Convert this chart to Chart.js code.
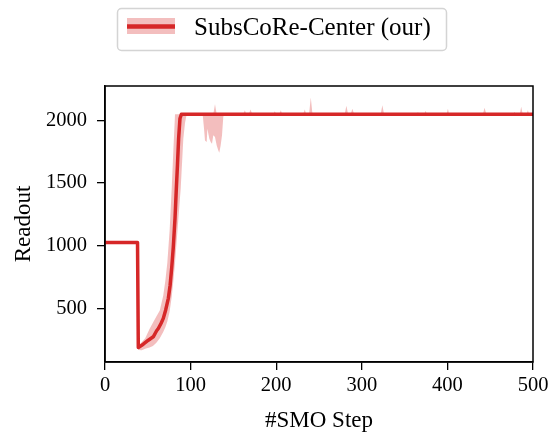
<!DOCTYPE html>
<html>
<head>
<meta charset="utf-8">
<script src="https://cdn.jsdelivr.net/npm/chart.js@4.4.1/dist/chart.umd.min.js"></script>
<style>
  html, body { margin: 0; padding: 0; background: #fff; }
</style>
</head>
<body>
<canvas id="chart" width="553" height="435"></canvas>
<script>
const seriesLabel = 'SubsCoRe-Center (our)';
const xTitle = '#SMO Step';
const yTitle = 'Readout';
const xTicks = [0, 100, 200, 300, 400, 500];
const yTicks = [500, 1000, 1500, 2000];

// mean readout
const meanX = [0, 38, 38.9, 44.7, 50.6, 56.4, 60.3, 62.3, 65.4, 68.1, 70.9, 74, 76, 77.9, 79.8, 81.8, 83.3, 84.7, 86, 87.6, 89.2, 500];
const meanY = [1024, 1024, 187, 214, 246, 273, 321, 339, 379, 420, 487, 580, 680, 820, 990, 1220, 1451, 1650, 1853, 2014, 2048, 2048];

// shaded band (upper / lower edge), same steps for both
const bandX = [0, 2, 38, 39, 43, 47, 52, 56, 60, 64, 68, 70.5, 72.8, 75.5, 77.9, 80, 81.8, 85, 88.4, 91.5, 93.5, 95.4,
    114.1, 115.7, 116.8, 118.8, 119.6, 121.9, 123.5, 125, 126.5, 128.5, 130.5, 132.4, 133.5, 135.1, 136.7, 138.2, 139.5,
    161.5, 163.4, 165, 168, 170, 172,
    196.5, 198.4, 200, 203.5, 205.4, 207,
    231.5, 233.4, 235, 238.4, 240.4, 242.4,
    280, 282, 284, 287, 289, 291,
    322, 324, 326,
    364, 365.6, 367, 373, 374.6, 376,
    399, 400.6, 402,
    441.5, 443.4, 445.5,
    477, 478.4, 480, 484.5, 486.2, 488, 492.5, 494, 495.5, 500];
const bandUpper = [1024, 1024, 1024, 200, 232, 262, 335, 385, 435, 483, 600, 720, 864, 1120, 1451, 1780, 2048, 2048, 2048, 2048, 2048, 2048,
    2048, 2048, 2048, 2048, 2048, 2048, 2048, 2048, 2048, 2128, 2048, 2048, 2048, 2048, 2048, 2048, 2048,
    2048, 2080, 2048, 2048, 2086, 2048,
    2048, 2072, 2048, 2048, 2080, 2048,
    2048, 2086, 2048, 2048, 2182, 2048,
    2048, 2115, 2048, 2048, 2091, 2048,
    2048, 2120, 2048,
    2048, 2065, 2048, 2048, 2075, 2048,
    2048, 2091, 2048,
    2048, 2099, 2048,
    2048, 2065, 2048, 2048, 2107, 2048, 2048, 2080, 2048, 2048];
const bandLower = [1000, 1024, 1024, 168, 166, 178, 188, 200, 225, 262, 312, 350, 395, 475, 590, 730, 864, 1150, 1451, 1853, 1980, 2048,
    2048, 1933, 1839, 1826, 1933, 1853, 1826, 1813, 1880, 1866, 1799, 1759, 1740, 1799, 1880, 2027, 2048,
    2048, 2048, 2048, 2048, 2048, 2048,
    2048, 2048, 2048, 2048, 2048, 2048,
    2048, 2048, 2048, 2048, 2048, 2048,
    2048, 2048, 2048, 2048, 2048, 2048,
    2048, 2048, 2048,
    2048, 2048, 2048, 2048, 2048, 2048,
    2048, 2048, 2048,
    2048, 2048, 2048,
    2048, 2048, 2048, 2048, 2048, 2048, 2048, 2048, 2048, 2048];

const lineColor = 'rgb(214, 39, 40)';
const bandColor = 'rgba(214, 39, 40, 0.3)';
const serif = '"Liberation Serif", "Times New Roman", serif';

function toPoints(xs, ys) {
    return xs.map((x, i) => ({x: x, y: ys[i]}));
}

// box around the plot area
const framePlugin = {
    id: 'frame',
    afterDatasetsDraw(chart) {
        const {ctx, chartArea: a} = chart;
        ctx.save();
        ctx.strokeStyle = '#000';
        ctx.lineWidth = 1.5;
        ctx.strokeRect(a.left, a.top, a.right - a.left, a.bottom - a.top);
        ctx.restore();
    }
};

// matplotlib-like legend box above the plot
const legendPlugin = {
    id: 'boxLegend',
    afterDraw(chart) {
        const ctx = chart.ctx;
        ctx.save();
        ctx.beginPath();
        ctx.roundRect(117.5, 8.5, 329, 42, 4);
        ctx.fillStyle = 'rgba(255,255,255,0.8)';
        ctx.fill();
        ctx.strokeStyle = '#d4d4d4';
        ctx.lineWidth = 1.5;
        ctx.stroke();

        ctx.fillStyle = bandColor;
        ctx.fillRect(127, 18, 48, 16);
        ctx.strokeStyle = lineColor;
        ctx.lineWidth = 4.5;
        ctx.beginPath();
        ctx.moveTo(127, 26.5);
        ctx.lineTo(175, 26.5);
        ctx.stroke();

        ctx.fillStyle = '#000';
        ctx.font = '25px ' + serif;
        ctx.textBaseline = 'alphabetic';
        ctx.fillText(seriesLabel, 194, 34.5);
        ctx.restore();
    }
};

const ctx = document.getElementById('chart').getContext('2d');

const chart = new Chart(ctx, {
    type: 'line',
    data: {
        datasets: [
            {
                label: seriesLabel,
                data: toPoints(meanX, meanY),
                borderColor: lineColor,
                borderWidth: 3.5,
                pointRadius: 0,
                tension: 0,
                fill: false,
                borderJoinStyle: 'round'
            },
            {
                label: 'upper',
                data: toPoints(bandX, bandUpper),
                borderWidth: 0,
                borderColor: 'rgba(0,0,0,0)',
                pointRadius: 0,
                tension: 0,
                fill: false
            },
            {
                label: 'lower',
                data: toPoints(bandX, bandLower),
                borderWidth: 0,
                borderColor: 'rgba(0,0,0,0)',
                backgroundColor: bandColor,
                pointRadius: 0,
                tension: 0,
                fill: '-1'
            }
        ]
    },
    options: {
        responsive: false,
        animation: false,
        layout: {
            padding: {top: 86, right: 20, left: 0, bottom: 0}
        },
        plugins: {
            legend: {display: false},
            tooltip: {enabled: false}
        },
        scales: {
            x: {
                type: 'linear',
                min: 0,
                max: 500,
                afterBuildTicks: s => { s.ticks = xTicks.map(v => ({value: v})); },
                afterFit: s => { s.height = 73; },
                grid: {drawOnChartArea: false, tickLength: 8, color: '#000', lineWidth: 1.3},
                border: {color: '#000', width: 1.5},
                ticks: {color: '#000', font: {family: serif, size: 20.5}, padding: 3, maxRotation: 0, callback: v => String(v)},
                title: {display: true, text: xTitle, color: '#000', font: {family: serif, size: 23}, padding: {top: 0, bottom: 0}}
            },
            y: {
                type: 'linear',
                min: 72,
                max: 2273,
                afterBuildTicks: s => { s.ticks = yTicks.map(v => ({value: v})); },
                afterFit: s => { s.width = 105; },
                grid: {drawOnChartArea: false, tickLength: 8, color: '#000', lineWidth: 1.3},
                border: {color: '#000', width: 1.5},
                ticks: {color: '#000', font: {family: serif, size: 20.5}, padding: 10, callback: v => String(v)},
                title: {display: true, text: yTitle, color: '#000', font: {family: serif, size: 23}, padding: {top: 10, bottom: 0}}
            }
        }
    },
    plugins: [framePlugin, legendPlugin]
});
</script>
</body>
</html>
